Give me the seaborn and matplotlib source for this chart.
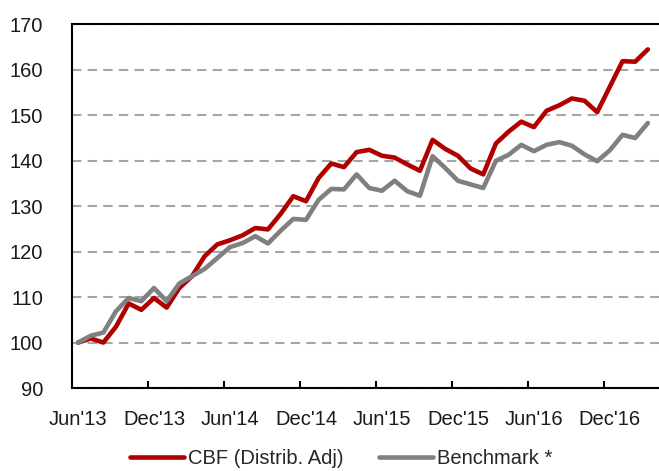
import seaborn as sns
import matplotlib.pyplot as plt
import pandas as pd
import numpy as np

# monthly index values, Jun'13 .. Mar'17
cbf = [100.0, 100.9, 100.0, 103.5, 108.6, 107.2, 109.8, 107.7, 112.0, 114.6,
       119.0, 121.6, 122.5, 123.6, 125.2, 124.9, 128.3, 132.2, 131.1, 136.2,
       139.4, 138.6, 141.9, 142.4, 141.1, 140.7, 139.2, 137.8, 144.6, 142.6,
       141.1, 138.3, 137.0, 143.8, 146.4, 148.6, 147.4, 151.0, 152.2, 153.7,
       153.2, 150.7, 156.3, 161.9, 161.8, 164.5]
benchmark = [100.0, 101.5, 102.2, 106.9, 109.8, 109.1, 112.0, 109.1, 113.0, 114.6,
             116.2, 118.6, 121.0, 121.9, 123.4, 121.8, 124.6, 127.2, 127.0, 131.4,
             133.8, 133.7, 137.0, 134.0, 133.4, 135.6, 133.3, 132.3, 141.0, 138.4,
             135.6, 134.8, 134.0, 140.0, 141.3, 143.5, 142.1, 143.5, 144.1, 143.3,
             141.4, 139.9, 142.3, 145.7, 145.0, 148.3]
tick_labels = ["Jun'13", "Dec'13", "Jun'14", "Dec'14",
               "Jun'15", "Dec'15", "Jun'16", "Dec'16"]
series_names = ['CBF (Distrib. Adj)', 'Benchmark *']
colors = {'CBF (Distrib. Adj)': '#B00000', 'Benchmark *': '#808080'}

df = pd.DataFrame({'month': np.arange(len(cbf)),
                   'CBF (Distrib. Adj)': cbf,
                   'Benchmark *': benchmark})
long = df.melt(id_vars='month', var_name='series', value_name='value')

sns.set_theme(style='white')
plt.rcParams['font.family'] = ['Liberation Sans', 'DejaVu Sans']

fig = plt.figure(figsize=(6.59, 4.71), dpi=100)
ax = fig.add_axes([0.1088, 0.1762, 0.8912, 0.772])

sns.lineplot(data=long, x='month', y='value', hue='series', hue_order=series_names,
             palette=colors, linewidth=3.3, legend=False, ax=ax,
             solid_joinstyle='round', solid_capstyle='round')

# axes limits / ticks
ax.set_xlim(-0.5, 45.88)
ax.set_ylim(90, 170)
ax.set_yticks(range(90, 171, 10))
ax.set_xticks(range(0, 46, 6))
ax.set_xticklabels(tick_labels)
ax.set_xticks(np.arange(5.5, 46, 6), minor=True)
ax.set_xlabel('')
ax.set_ylabel('')

ax.yaxis.grid(True, color='#A6A6A6', linestyle=(0, (4.5, 3)), linewidth=1.5)
ax.xaxis.grid(False)
ax.set_axisbelow(True)

ax.tick_params(axis='x', which='major', length=0, pad=15.5, labelsize=14.5, colors='#1a1a1a')
ax.tick_params(axis='x', which='minor', bottom=True, direction='in', length=5, width=1.5, color='black')
ax.tick_params(axis='y', length=0, pad=20.5, labelsize=14.5, colors='#1a1a1a')

for side in ['top', 'left', 'bottom']:
    ax.spines[side].set_color('black')
    ax.spines[side].set_linewidth(1.5)
ax.spines['right'].set_visible(False)

fig.legend(ax.lines[:2], series_names, loc='center', bbox_to_anchor=(0.518, 1 - 459 / 471),
           ncol=2, frameon=False, fontsize=14.5, handlelength=2.7, handletextpad=0.2,
           columnspacing=1.75)

fig.savefig('out.png', dpi=100)
